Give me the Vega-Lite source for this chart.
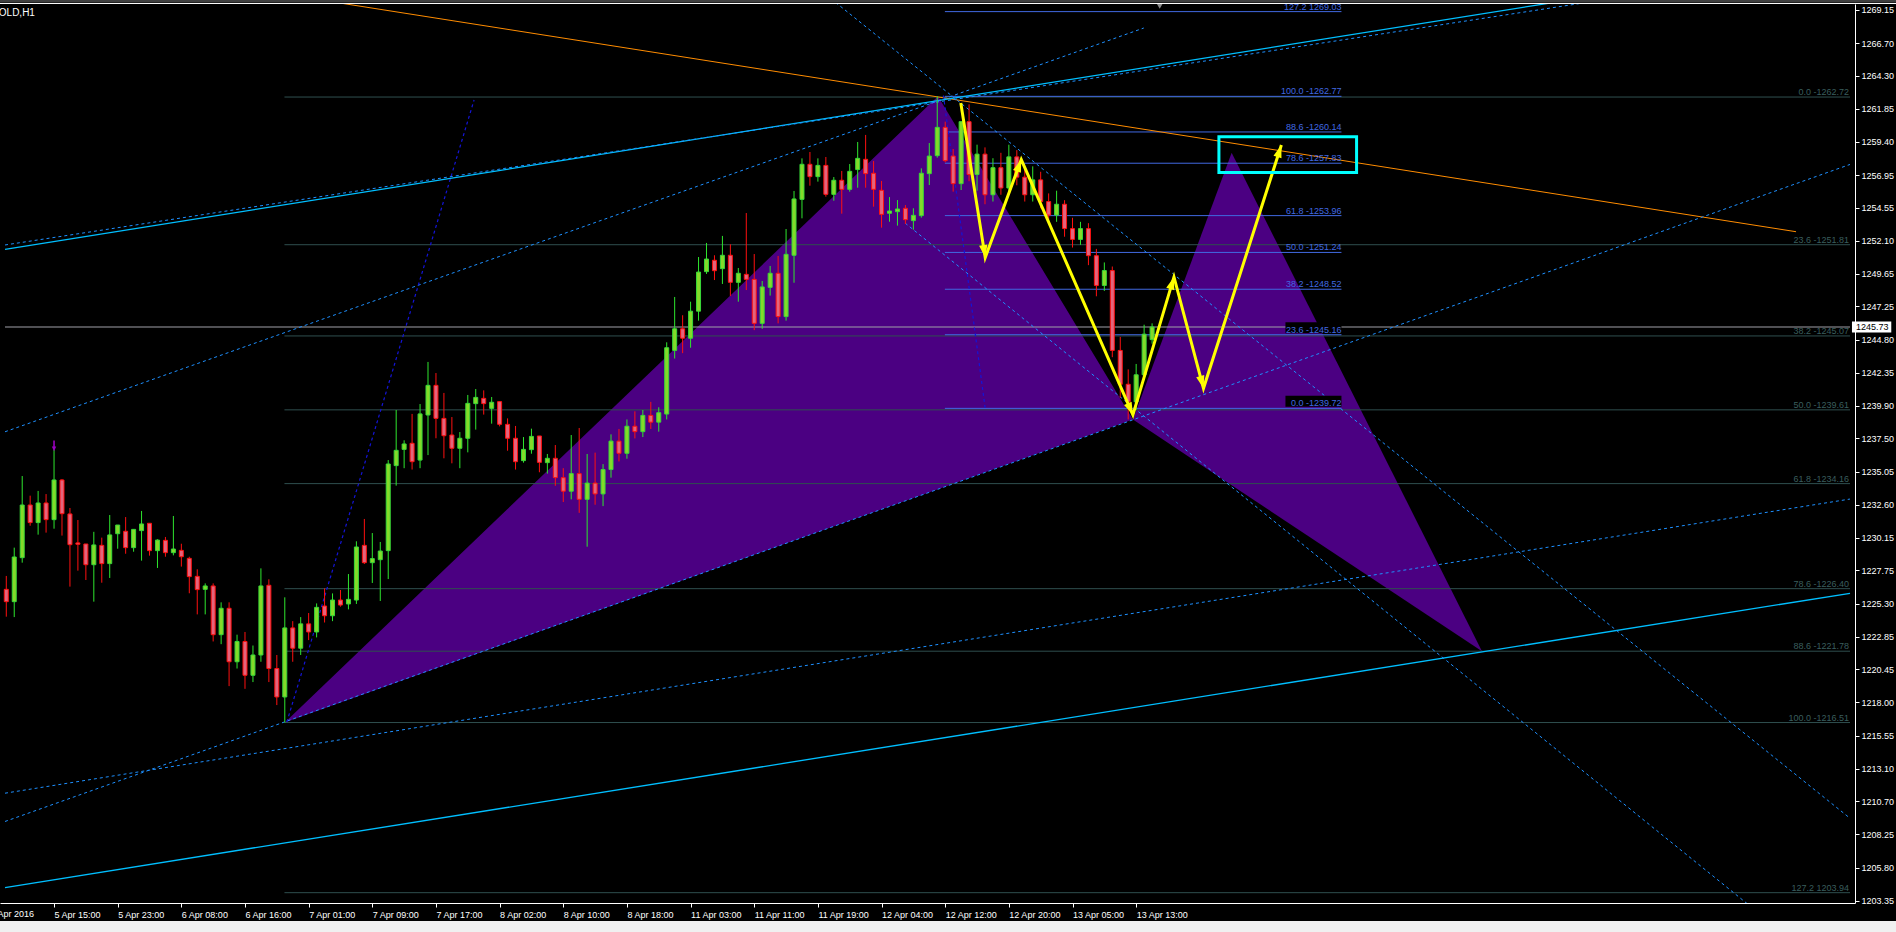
{
"$schema": "https://vega.github.io/schema/vega-lite/v6.json",
"width": 1855, "height": 899,
"autosize": {"type": "none"},
"padding": {"left": 0, "top": 4, "right": 41, "bottom": 29},
"background": "#000000",
"config": {"view": {"stroke": null}, "font": "Liberation Sans",
 "axis": {"labelOverlap": false, "labelBound": false, "labelFlush": false, "grid": false, "labelSeparation": 0, "tickCount": 60}},
"datasets": {
"candles": [
{"i":0,"o":1226.35,"h":1227.34,"l":1224.33,"c":1225.44},
{"i":1,"o":1225.44,"h":1229.43,"l":1224.30,"c":1228.74},
{"i":2,"o":1228.69,"h":1234.72,"l":1228.32,"c":1232.58},
{"i":3,"o":1232.58,"h":1233.27,"l":1231.05,"c":1231.28},
{"i":4,"o":1231.28,"h":1233.62,"l":1230.39,"c":1232.73},
{"i":5,"o":1232.73,"h":1233.39,"l":1230.54,"c":1231.50},
{"i":6,"o":1231.50,"h":1236.69,"l":1230.83,"c":1234.43},
{"i":7,"o":1234.43,"h":1234.50,"l":1230.32,"c":1231.94},
{"i":8,"o":1231.92,"h":1232.36,"l":1226.55,"c":1229.65},
{"i":9,"o":1229.78,"h":1231.47,"l":1227.73,"c":1229.68},
{"i":10,"o":1229.70,"h":1229.70,"l":1227.04,"c":1228.17},
{"i":11,"o":1228.17,"h":1230.60,"l":1225.44,"c":1229.63},
{"i":12,"o":1229.60,"h":1230.17,"l":1226.84,"c":1228.25},
{"i":13,"o":1228.25,"h":1231.84,"l":1227.19,"c":1230.37},
{"i":14,"o":1230.46,"h":1231.10,"l":1229.35,"c":1231.10},
{"i":15,"o":1230.64,"h":1231.69,"l":1228.98,"c":1229.43},
{"i":16,"o":1229.43,"h":1230.80,"l":1229.13,"c":1230.78},
{"i":17,"o":1230.69,"h":1232.14,"l":1228.47,"c":1231.18},
{"i":18,"o":1231.23,"h":1231.23,"l":1228.84,"c":1229.21},
{"i":19,"o":1229.21,"h":1230.05,"l":1227.93,"c":1229.99},
{"i":20,"o":1229.97,"h":1230.22,"l":1228.76,"c":1229.06},
{"i":21,"o":1229.06,"h":1231.77,"l":1228.86,"c":1229.33},
{"i":22,"o":1229.23,"h":1229.72,"l":1228.03,"c":1228.76},
{"i":23,"o":1228.64,"h":1228.76,"l":1226.06,"c":1227.29},
{"i":24,"o":1227.31,"h":1227.83,"l":1224.50,"c":1226.33},
{"i":25,"o":1226.35,"h":1226.79,"l":1224.50,"c":1226.60},
{"i":26,"o":1226.60,"h":1226.79,"l":1222.50,"c":1223.00},
{"i":27,"o":1223.00,"h":1225.39,"l":1222.30,"c":1224.95},
{"i":28,"o":1224.95,"h":1225.39,"l":1219.20,"c":1221.00},
{"i":29,"o":1221.00,"h":1223.00,"l":1220.50,"c":1222.50},
{"i":30,"o":1222.50,"h":1223.20,"l":1219.00,"c":1220.00},
{"i":31,"o":1220.00,"h":1222.20,"l":1219.50,"c":1221.50},
{"i":32,"o":1221.50,"h":1227.90,"l":1221.00,"c":1226.60},
{"i":33,"o":1226.65,"h":1227.09,"l":1219.50,"c":1220.50},
{"i":34,"o":1220.50,"h":1221.50,"l":1217.80,"c":1218.40},
{"i":35,"o":1218.40,"h":1225.76,"l":1216.51,"c":1223.50},
{"i":36,"o":1223.50,"h":1224.00,"l":1221.00,"c":1222.00},
{"i":37,"o":1222.00,"h":1224.30,"l":1221.50,"c":1223.80},
{"i":38,"o":1223.80,"h":1224.60,"l":1222.60,"c":1223.20},
{"i":39,"o":1223.20,"h":1225.31,"l":1222.80,"c":1225.02},
{"i":40,"o":1225.12,"h":1226.42,"l":1223.90,"c":1224.40},
{"i":41,"o":1224.40,"h":1226.05,"l":1224.00,"c":1225.56},
{"i":42,"o":1225.56,"h":1226.30,"l":1225.07,"c":1225.19},
{"i":43,"o":1225.27,"h":1227.48,"l":1224.87,"c":1225.61},
{"i":44,"o":1225.56,"h":1229.90,"l":1225.27,"c":1229.48},
{"i":45,"o":1229.60,"h":1231.55,"l":1228.22,"c":1228.32},
{"i":46,"o":1228.32,"h":1230.51,"l":1226.82,"c":1228.62},
{"i":47,"o":1228.54,"h":1229.85,"l":1225.49,"c":1229.18},
{"i":48,"o":1229.21,"h":1235.90,"l":1227.11,"c":1235.61},
{"i":49,"o":1235.49,"h":1239.60,"l":1234.01,"c":1236.62},
{"i":50,"o":1236.69,"h":1237.36,"l":1235.30,"c":1237.09},
{"i":51,"o":1237.14,"h":1239.31,"l":1235.20,"c":1235.78},
{"i":52,"o":1235.90,"h":1240.04,"l":1235.30,"c":1239.31},
{"i":53,"o":1239.23,"h":1243.15,"l":1236.27,"c":1241.42},
{"i":54,"o":1241.42,"h":1242.33,"l":1237.51,"c":1238.98},
{"i":55,"o":1238.98,"h":1240.86,"l":1236.03,"c":1237.70},
{"i":56,"o":1237.75,"h":1239.08,"l":1235.66,"c":1236.77},
{"i":57,"o":1236.77,"h":1237.97,"l":1235.30,"c":1237.51},
{"i":58,"o":1237.51,"h":1240.71,"l":1236.47,"c":1240.09},
{"i":59,"o":1240.07,"h":1241.15,"l":1238.15,"c":1240.53},
{"i":60,"o":1240.46,"h":1241.05,"l":1239.26,"c":1240.07},
{"i":61,"o":1239.72,"h":1240.56,"l":1238.59,"c":1240.17},
{"i":62,"o":1240.22,"h":1240.26,"l":1238.39,"c":1238.54},
{"i":63,"o":1238.54,"h":1238.98,"l":1236.59,"c":1237.51},
{"i":64,"o":1237.51,"h":1238.42,"l":1235.20,"c":1235.78},
{"i":65,"o":1235.86,"h":1237.60,"l":1235.71,"c":1236.69},
{"i":66,"o":1236.67,"h":1238.22,"l":1236.37,"c":1237.65},
{"i":67,"o":1237.68,"h":1237.68,"l":1235.00,"c":1235.73},
{"i":68,"o":1235.71,"h":1236.35,"l":1234.90,"c":1236.03},
{"i":69,"o":1236.03,"h":1237.01,"l":1234.00,"c":1234.60},
{"i":70,"o":1234.60,"h":1235.30,"l":1232.80,"c":1233.60},
{"i":71,"o":1233.60,"h":1237.75,"l":1233.00,"c":1234.90},
{"i":72,"o":1234.90,"h":1238.27,"l":1232.00,"c":1233.00},
{"i":73,"o":1233.00,"h":1236.35,"l":1229.50,"c":1234.20},
{"i":74,"o":1234.20,"h":1236.45,"l":1232.60,"c":1233.40},
{"i":75,"o":1233.40,"h":1235.60,"l":1232.50,"c":1235.20},
{"i":76,"o":1235.20,"h":1237.80,"l":1234.60,"c":1237.30},
{"i":77,"o":1237.30,"h":1238.20,"l":1235.80,"c":1236.40},
{"i":78,"o":1236.40,"h":1238.90,"l":1236.00,"c":1238.40},
{"i":79,"o":1238.40,"h":1239.50,"l":1237.50,"c":1238.00},
{"i":80,"o":1238.00,"h":1239.60,"l":1237.60,"c":1239.20},
{"i":81,"o":1239.20,"h":1240.20,"l":1238.20,"c":1238.70},
{"i":82,"o":1238.70,"h":1239.80,"l":1238.00,"c":1239.40},
{"i":83,"o":1239.30,"h":1244.60,"l":1238.90,"c":1244.20},
{"i":84,"o":1244.00,"h":1247.95,"l":1243.40,"c":1245.60},
{"i":85,"o":1245.60,"h":1246.60,"l":1243.80,"c":1244.90},
{"i":86,"o":1244.90,"h":1247.60,"l":1244.20,"c":1246.90},
{"i":87,"o":1246.90,"h":1250.90,"l":1246.20,"c":1249.79},
{"i":88,"o":1249.82,"h":1251.94,"l":1249.65,"c":1250.75},
{"i":89,"o":1250.66,"h":1251.03,"l":1249.20,"c":1249.89},
{"i":90,"o":1250.04,"h":1252.46,"l":1248.91,"c":1251.03},
{"i":91,"o":1251.03,"h":1251.84,"l":1248.02,"c":1249.03},
{"i":92,"o":1249.03,"h":1250.09,"l":1247.60,"c":1249.70},
{"i":93,"o":1249.62,"h":1254.15,"l":1248.46,"c":1249.25},
{"i":94,"o":1249.25,"h":1251.12,"l":1245.50,"c":1246.00},
{"i":95,"o":1246.00,"h":1249.13,"l":1245.60,"c":1248.69},
{"i":96,"o":1248.66,"h":1250.24,"l":1248.05,"c":1249.70},
{"i":97,"o":1249.70,"h":1250.98,"l":1246.00,"c":1246.50},
{"i":98,"o":1246.50,"h":1252.97,"l":1246.20,"c":1251.10},
{"i":99,"o":1251.03,"h":1255.78,"l":1249.00,"c":1255.19},
{"i":100,"o":1255.16,"h":1258.19,"l":1253.76,"c":1257.75},
{"i":101,"o":1257.75,"h":1258.66,"l":1256.17,"c":1256.84},
{"i":102,"o":1256.84,"h":1258.19,"l":1256.47,"c":1257.67},
{"i":103,"o":1257.67,"h":1258.29,"l":1255.36,"c":1255.53},
{"i":104,"o":1255.53,"h":1256.81,"l":1255.06,"c":1256.57},
{"i":105,"o":1256.57,"h":1257.26,"l":1254.10,"c":1255.90},
{"i":106,"o":1255.90,"h":1257.77,"l":1255.73,"c":1257.23},
{"i":107,"o":1257.36,"h":1259.40,"l":1256.02,"c":1258.19},
{"i":108,"o":1258.12,"h":1259.92,"l":1256.02,"c":1257.06},
{"i":109,"o":1257.09,"h":1257.99,"l":1254.62,"c":1255.90},
{"i":110,"o":1255.83,"h":1256.52,"l":1253.07,"c":1254.05},
{"i":111,"o":1254.13,"h":1255.33,"l":1253.51,"c":1254.30},
{"i":112,"o":1254.25,"h":1255.11,"l":1253.22,"c":1254.45},
{"i":113,"o":1254.50,"h":1254.74,"l":1253.34,"c":1253.66},
{"i":114,"o":1253.59,"h":1254.50,"l":1252.92,"c":1253.98},
{"i":115,"o":1253.96,"h":1257.45,"l":1253.81,"c":1257.09},
{"i":116,"o":1257.06,"h":1259.32,"l":1256.22,"c":1258.36},
{"i":117,"o":1258.39,"h":1262.77,"l":1258.24,"c":1260.48},
{"i":118,"o":1260.48,"h":1260.90,"l":1257.90,"c":1258.02},
{"i":119,"o":1258.36,"h":1258.88,"l":1255.73,"c":1256.32},
{"i":120,"o":1256.32,"h":1260.90,"l":1255.85,"c":1260.90},
{"i":121,"o":1260.90,"h":1262.18,"l":1256.50,"c":1257.00},
{"i":122,"o":1257.00,"h":1259.20,"l":1255.80,"c":1258.50},
{"i":123,"o":1258.50,"h":1259.00,"l":1254.80,"c":1255.50},
{"i":124,"o":1255.50,"h":1258.20,"l":1255.00,"c":1257.50},
{"i":125,"o":1257.50,"h":1258.60,"l":1255.50,"c":1256.00},
{"i":126,"o":1256.00,"h":1259.20,"l":1255.70,"c":1258.30},
{"i":127,"o":1258.30,"h":1258.80,"l":1256.20,"c":1256.80},
{"i":128,"o":1256.80,"h":1257.50,"l":1255.00,"c":1255.50},
{"i":129,"o":1255.50,"h":1257.60,"l":1255.00,"c":1256.60},
{"i":130,"o":1256.60,"h":1257.20,"l":1254.50,"c":1255.00},
{"i":131,"o":1255.00,"h":1255.60,"l":1253.60,"c":1254.00},
{"i":132,"o":1254.00,"h":1255.80,"l":1253.50,"c":1254.80},
{"i":133,"o":1254.80,"h":1255.10,"l":1252.40,"c":1253.00},
{"i":134,"o":1253.00,"h":1253.80,"l":1251.60,"c":1252.20},
{"i":135,"o":1252.20,"h":1253.50,"l":1251.80,"c":1253.00},
{"i":136,"o":1253.00,"h":1253.40,"l":1250.30,"c":1251.00},
{"i":137,"o":1251.00,"h":1251.50,"l":1248.00,"c":1248.80},
{"i":138,"o":1248.80,"h":1250.50,"l":1248.40,"c":1249.90},
{"i":139,"o":1249.90,"h":1250.20,"l":1243.50,"c":1244.00},
{"i":140,"o":1244.00,"h":1245.00,"l":1240.50,"c":1241.50},
{"i":141,"o":1241.50,"h":1242.60,"l":1238.90,"c":1240.20},
{"i":142,"o":1240.20,"h":1243.00,"l":1239.60,"c":1242.20},
{"i":143,"o":1242.20,"h":1245.90,"l":1241.80,"c":1245.20},
{"i":144,"o":1244.80,"h":1246.00,"l":1244.50,"c":1245.73}
],
"tri": [
{"t":"XAB","i":35,"p":1216.51,"p2":1216.51},
{"t":"XAB","i":117.09,"p":1262.77,"p2":1233.75},
{"t":"XAB","i":141.59,"p":1238.89,"p2":1238.89},
{"t":"BCD","i":141.59,"p":1238.89,"p2":1238.89},
{"t":"BCD","i":154.0,"p":1258.6,"p2":1234.04},
{"t":"BCD","i":185.46,"p":1221.78,"p2":1221.78}
],
"segs": [
{"k":"orange","x1":37.34,"y1":1270.09,"x2":224.93,"y2":1252.77},
{"k":"solid","x1":-0.1625,"y1":1251.47,"x2":199.84,"y2":1270.21},
{"k":"solid","x1":-0.1625,"y1":1204.32,"x2":231.7125,"y2":1226.06},
{"k":"dot","x1":-0.1625,"y1":1251.79,"x2":206.1,"y2":1270.38},
{"k":"dot","x1":-0.1625,"y1":1237.99,"x2":142.96,"y2":1267.82},
{"k":"dot","x1":-0.1625,"y1":1209.20,"x2":231.7125,"y2":1257.74},
{"k":"dot","x1":-0.1625,"y1":1211.29,"x2":231.7125,"y2":1233.02},
{"k":"dot","x1":103.06,"y1":1270.26,"x2":231.7125,"y2":1209.44},
{"k":"dot","x1":112.96,"y1":1253.41,"x2":231.7125,"y2":1196.99},
{"k":"dkdot","x1":35.26,"y1":1216.55,"x2":58.79,"y2":1262.50},
{"k":"dkdot","x1":117.78,"y1":1262.83,"x2":123.03,"y2":1239.70}
],
"fib": [
{"g":1,"t1":34.96,"t2":231.7125,"lv":1262.72,"lab":"0.0 -1262.72"},
{"g":1,"t1":34.96,"t2":231.7125,"lv":1251.81,"lab":"23.6 -1251.81"},
{"g":1,"t1":34.96,"t2":231.7125,"lv":1245.07,"lab":"38.2 -1245.07"},
{"g":1,"t1":34.96,"t2":231.7125,"lv":1239.61,"lab":"50.0 -1239.61"},
{"g":1,"t1":34.96,"t2":231.7125,"lv":1234.16,"lab":"61.8 -1234.16"},
{"g":1,"t1":34.96,"t2":231.7125,"lv":1226.40,"lab":"78.6 -1226.40"},
{"g":1,"t1":34.96,"t2":231.7125,"lv":1221.78,"lab":"88.6 -1221.78"},
{"g":1,"t1":34.96,"t2":231.7125,"lv":1216.51,"lab":"100.0 -1216.51"},
{"g":1,"t1":34.96,"t2":231.7125,"lv":1203.94,"lab":"127.2 1203.94"},
{"g":2,"t1":117.96,"t2":167.8,"lv":1269.03,"lab":"127.2 1269.03"},
{"g":2,"t1":117.96,"t2":167.8,"lv":1262.77,"lab":"100.0 -1262.77"},
{"g":2,"t1":117.96,"t2":167.8,"lv":1260.14,"lab":"88.6 -1260.14"},
{"g":2,"t1":117.96,"t2":167.8,"lv":1257.83,"lab":"78.6 -1257.83"},
{"g":2,"t1":117.96,"t2":167.8,"lv":1253.96,"lab":"61.8 -1253.96"},
{"g":2,"t1":117.96,"t2":167.8,"lv":1251.24,"lab":"50.0 -1251.24"},
{"g":2,"t1":117.96,"t2":167.8,"lv":1248.52,"lab":"38.2 -1248.52"},
{"g":2,"t1":117.96,"t2":167.8,"lv":1245.16,"lab":"23.6 -1245.16"},
{"g":2,"t1":117.96,"t2":167.8,"lv":1239.72,"lab":"0.0 -1239.72"}
],
"yel": [
{"n":0,"i":119.96,"p":1262.28},
{"n":1,"i":123.03,"p":1250.86,"a":171},
{"n":2,"i":127.56,"p":1258.10,"a":20},
{"n":3,"i":141.59,"p":1239.24,"a":156},
{"n":4,"i":146.75,"p":1249.43,"a":17},
{"n":5,"i":150.46,"p":1241.20,"a":165},
{"n":6,"i":160.25,"p":1259.18,"a":18}
],
"box": [{"i1":152.4,"i2":169.7,"p1":1257.14,"p2":1259.78}],
"bid": [{"v":1245.73,"lab":"1245.73","i1":231.96,"i2":236.9}],
"marks": [{"kind":"fractal","i":6,"p":1236.95},{"kind":"shift","i":144.96,"p":1269.45}],
"title": [{"t":"GOLD,H1","i":3.6,"p":1268.95}],
"firstdate": [{"t":"5 Apr 2016","i":-2}]
},
"layer": [
{"data":{"name":"candles"},"mark":{"type":"rule","opacity":0},
 "encoding":{"x":{"field":"i","type":"quantitative","scale":{"domain":[-0.1625,231.7125],"nice":false,"zero":false},
   "axis":{"orient":"bottom","values":[6,14,22,30,38,46,54,62,70,78,86,94,102,110,118,126,134,142],"tickCount":60,
   "labelExpr":"['5 Apr 2016','5 Apr 15:00','5 Apr 23:00','6 Apr 08:00','6 Apr 16:00','7 Apr 01:00','7 Apr 09:00','7 Apr 17:00','8 Apr 02:00','8 Apr 10:00','8 Apr 18:00','11 Apr 03:00','11 Apr 11:00','11 Apr 19:00','12 Apr 04:00','12 Apr 12:00','12 Apr 20:00','13 Apr 05:00','13 Apr 13:00'][(datum.value+2)/8]",
   "labelAlign":"left","labelBaseline":"top","labelPadding":3,"labelOffset":0,"tickSize":4,"tickColor":"#FFFFFF","domainColor":"#FFFFFF","labelColor":"#FFFFFF","labelFontSize":9,"labelFont":"Liberation Sans","grid":false,"title":null,"labelOverlap":false,"labelFlush":false,"labelBound":false,"zindex":1}},
 "y":{"field":"l","type":"quantitative","scale":{"domain":[1203.178,1269.593],"nice":false,"zero":false},
   "axis":{"orient":"right","values":[1269.15,1266.70,1264.30,1261.85,1259.40,1256.95,1254.55,1252.10,1249.65,1247.25,1244.80,1242.35,1239.90,1237.50,1235.05,1232.60,1230.15,1227.75,1225.30,1222.85,1220.45,1218.00,1215.55,1213.10,1210.70,1208.25,1205.80,1203.35],"tickCount":60,
   "format":".2f","tickSize":4,"labelPadding":2,"tickColor":"#FFFFFF","domainColor":"#FFFFFF","labelColor":"#FFFFFF","labelFontSize":9,"labelFont":"Liberation Sans","grid":false,"title":null,"labelOverlap":false,"labelFlush":false,"labelBound":false,"labelBaseline":"middle","zindex":1}},
 "y2":{"field":"h"}}},
{"data":{"name":"tri"},"mark":{"type":"area","color":"#4B0082","opacity":1,"interpolate":"linear"},
 "encoding":{"x":{"field":"i","type":"quantitative","scale":{"domain":[-0.1625,231.7125],"nice":false,"zero":false}},
 "y":{"field":"p","type":"quantitative","scale":{"domain":[1203.178,1269.593],"nice":false,"zero":false}},
 "y2":{"field":"p2"},"detail":{"field":"t"}}},
{"data":{"name":"fib"},"transform":[{"filter":"datum.g == 1"}],"mark":{"type":"rule","color":"#2F4F4F","strokeWidth":1},
 "encoding":{"x":{"field":"t1","type":"quantitative","scale":{"domain":[-0.1625,231.7125],"nice":false,"zero":false}},
 "x2":{"field":"t2"},
 "y":{"field":"lv","type":"quantitative","scale":{"domain":[1203.178,1269.593],"nice":false,"zero":false}}}},
{"data":{"name":"fib"},"transform":[{"filter":"datum.g == 2"}],"mark":{"type":"rule","color":"#4169E1","strokeWidth":1},
 "encoding":{"x":{"field":"t1","type":"quantitative","scale":{"domain":[-0.1625,231.7125],"nice":false,"zero":false}},
 "x2":{"field":"t2"},
 "y":{"field":"lv","type":"quantitative","scale":{"domain":[1203.178,1269.593],"nice":false,"zero":false}}}},
{"data":{"name":"bid"},"mark":{"type":"rule","color":"#A0A0A8","strokeWidth":1},
 "encoding":{"x":{"datum":-0.1625,"type":"quantitative","scale":{"domain":[-0.1625,231.7125],"nice":false,"zero":false}},
 "x2":{"datum":231.7125},
 "y":{"field":"v","type":"quantitative","scale":{"domain":[1203.178,1269.593],"nice":false,"zero":false}}}},
{"data":{"name":"segs"},"transform":[{"filter":"datum.k == 'orange'"}],"mark":{"type":"rule","color":"#FF8C00","strokeWidth":1,"clip":true},
 "encoding":{"x":{"field":"x1","type":"quantitative","scale":{"domain":[-0.1625,231.7125],"nice":false,"zero":false}},
 "x2":{"field":"x2"},
 "y":{"field":"y1","type":"quantitative","scale":{"domain":[1203.178,1269.593],"nice":false,"zero":false}},
 "y2":{"field":"y2"}}},
{"data":{"name":"segs"},"transform":[{"filter":"datum.k == 'solid'"}],"mark":{"type":"rule","color":"#00BFFF","strokeWidth":1.3,"clip":true},
 "encoding":{"x":{"field":"x1","type":"quantitative","scale":{"domain":[-0.1625,231.7125],"nice":false,"zero":false}},
 "x2":{"field":"x2"},
 "y":{"field":"y1","type":"quantitative","scale":{"domain":[1203.178,1269.593],"nice":false,"zero":false}},
 "y2":{"field":"y2"}}},
{"data":{"name":"segs"},"transform":[{"filter":"datum.k == 'dot'"}],"mark":{"type":"rule","color":"#1E90FF","strokeWidth":1,"strokeDash":[3,3],"clip":true},
 "encoding":{"x":{"field":"x1","type":"quantitative","scale":{"domain":[-0.1625,231.7125],"nice":false,"zero":false}},
 "x2":{"field":"x2"},
 "y":{"field":"y1","type":"quantitative","scale":{"domain":[1203.178,1269.593],"nice":false,"zero":false}},
 "y2":{"field":"y2"}}},
{"data":{"name":"segs"},"transform":[{"filter":"datum.k == 'dkdot'"}],"mark":{"type":"rule","color":"#1414D8","strokeWidth":1.2,"strokeDash":[3,3],"clip":true},
 "encoding":{"x":{"field":"x1","type":"quantitative","scale":{"domain":[-0.1625,231.7125],"nice":false,"zero":false}},
 "x2":{"field":"x2"},
 "y":{"field":"y1","type":"quantitative","scale":{"domain":[1203.178,1269.593],"nice":false,"zero":false}},
 "y2":{"field":"y2"}}},
{"data":{"name":"candles"},"mark":{"type":"rule","strokeWidth":1},
 "encoding":{"x":{"field":"i","type":"quantitative","scale":{"domain":[-0.1625,231.7125],"nice":false,"zero":false}},
 "y":{"field":"l","type":"quantitative","scale":{"domain":[1203.178,1269.593],"nice":false,"zero":false}},
 "y2":{"field":"h"},
 "color":{"condition":{"test":"datum.c >= datum.o","value":"#2EE62E"},"value":"#FF1010"}}},
{"data":{"name":"candles"},"mark":{"type":"bar","width":4,"strokeWidth":1},
 "encoding":{"x":{"field":"i","type":"quantitative","scale":{"domain":[-0.1625,231.7125],"nice":false,"zero":false}},
 "y":{"field":"o","type":"quantitative","scale":{"domain":[1203.178,1269.593],"nice":false,"zero":false}},
 "y2":{"field":"c"},
 "fill":{"condition":{"test":"datum.c >= datum.o","value":"#84DA2A"},"value":"#E4647C"},
 "stroke":{"condition":{"test":"datum.c >= datum.o","value":"#38D838"},"value":"#FF1010"}}},
{"data":{"name":"yel"},"mark":{"type":"line","color":"#FFFF00","strokeWidth":3},
 "encoding":{"x":{"field":"i","type":"quantitative","scale":{"domain":[-0.1625,231.7125],"nice":false,"zero":false}},
 "y":{"field":"p","type":"quantitative","scale":{"domain":[1203.178,1269.593],"nice":false,"zero":false}},
 "order":{"field":"n"}}},
{"data":{"name":"yel"},"transform":[{"filter":"datum.n > 0"}],"mark":{"type":"point","shape":"M0,0L-1.4,4.2L1.4,4.2Z","filled":true,"color":"#FFFF00","size":36,"opacity":1},
 "encoding":{"x":{"field":"i","type":"quantitative","scale":{"domain":[-0.1625,231.7125],"nice":false,"zero":false}},
 "y":{"field":"p","type":"quantitative","scale":{"domain":[1203.178,1269.593],"nice":false,"zero":false}},
 "angle":{"field":"a","type":"quantitative","scale":null}}},
{"data":{"name":"box"},"mark":{"type":"rect","fill":"#000000","fillOpacity":0,"stroke":"#00FFFF","strokeWidth":3},
 "encoding":{"x":{"field":"i1","type":"quantitative","scale":{"domain":[-0.1625,231.7125],"nice":false,"zero":false}},
 "x2":{"field":"i2"},
 "y":{"field":"p1","type":"quantitative","scale":{"domain":[1203.178,1269.593],"nice":false,"zero":false}},
 "y2":{"field":"p2"}}},
{"data":{"name":"fib"},"transform":[{"filter":"datum.g == 2 && (datum.lv == 1245.16 || datum.lv == 1239.72)"}],
 "mark":{"type":"rect","width":56,"height":11,"xOffset":-28,"yOffset":-7,"color":"#000000"},
 "encoding":{"x":{"field":"t2","type":"quantitative","scale":{"domain":[-0.1625,231.7125],"nice":false,"zero":false}},
 "y":{"field":"lv","type":"quantitative","scale":{"domain":[1203.178,1269.593],"nice":false,"zero":false}}}},
{"data":{"name":"fib"},"transform":[{"filter":"datum.g == 1"}],"mark":{"type":"text","align":"right","baseline":"alphabetic","dy":-2,"dx":-1,"fontSize":9,"font":"Liberation Sans","color":"#3A5E5E"},
 "encoding":{"x":{"field":"t2","type":"quantitative","scale":{"domain":[-0.1625,231.7125],"nice":false,"zero":false}},
 "y":{"field":"lv","type":"quantitative","scale":{"domain":[1203.178,1269.593],"nice":false,"zero":false}},
 "text":{"field":"lab"}}},
{"data":{"name":"fib"},"transform":[{"filter":"datum.g == 2"}],"mark":{"type":"text","align":"right","baseline":"alphabetic","dy":-2,"dx":0,"fontSize":9,"font":"Liberation Sans","color":"#4169E1"},
 "encoding":{"x":{"field":"t2","type":"quantitative","scale":{"domain":[-0.1625,231.7125],"nice":false,"zero":false}},
 "y":{"field":"lv","type":"quantitative","scale":{"domain":[1203.178,1269.593],"nice":false,"zero":false}},
 "text":{"field":"lab"}}},
{"data":{"name":"marks"},"transform":[{"filter":"datum.kind == 'fractal'"}],"mark":{"type":"point","shape":"arrow","filled":true,"color":"#9A00C0","size":120,"angle":180,"opacity":1},
 "encoding":{"x":{"field":"i","type":"quantitative","scale":{"domain":[-0.1625,231.7125],"nice":false,"zero":false}},
 "y":{"field":"p","type":"quantitative","scale":{"domain":[1203.178,1269.593],"nice":false,"zero":false}}}},
{"data":{"name":"marks"},"transform":[{"filter":"datum.kind == 'shift'"}],"mark":{"type":"point","shape":"triangle-down","filled":true,"color":"#8C8C8C","size":40,"opacity":1,"clip":false},
 "encoding":{"x":{"field":"i","type":"quantitative","scale":{"domain":[-0.1625,231.7125],"nice":false,"zero":false}},
 "y":{"field":"p","type":"quantitative","scale":{"domain":[1203.178,1269.593],"nice":false,"zero":false}}}},
{"data":{"name":"title"},"mark":{"type":"text","align":"right","baseline":"middle","fontSize":10,"font":"Liberation Sans","color":"#FFFFFF"},
 "encoding":{"x":{"field":"i","type":"quantitative","scale":{"domain":[-0.1625,231.7125],"nice":false,"zero":false}},
 "y":{"field":"p","type":"quantitative","scale":{"domain":[1203.178,1269.593],"nice":false,"zero":false}},
 "text":{"field":"t"}}},
{"data":{"name":"firstdate"},"mark":{"type":"text","align":"left","baseline":"top","fontSize":9,"font":"Liberation Sans","color":"#FFFFFF","clip":false},
 "encoding":{"x":{"field":"i","type":"quantitative","scale":{"domain":[-0.1625,231.7125],"nice":false,"zero":false}},
 "y":{"datum":1202.66,"type":"quantitative","scale":{"domain":[1203.178,1269.593],"nice":false,"zero":false}},
 "text":{"field":"t"}}},
{"data":{"name":"bid"},"mark":{"type":"rect","color":"#FFFFFF","height":11,"clip":false},
 "encoding":{"x":{"field":"i1","type":"quantitative","scale":{"domain":[-0.1625,231.7125],"nice":false,"zero":false}},
 "x2":{"field":"i2"},
 "y":{"field":"v","type":"quantitative","scale":{"domain":[1203.178,1269.593],"nice":false,"zero":false}}}},
{"data":{"name":"bid"},"mark":{"type":"text","align":"left","baseline":"middle","fontSize":9,"font":"Liberation Sans","color":"#000000","dx":4},
 "encoding":{"x":{"field":"i1","type":"quantitative","scale":{"domain":[-0.1625,231.7125],"nice":false,"zero":false}},
 "y":{"field":"v","type":"quantitative","scale":{"domain":[1203.178,1269.593],"nice":false,"zero":false}},
 "text":{"field":"lab"}}},
{"data":{"name":"title"},"mark":{"type":"rect","color":"#F0F0F0","clip":false},
 "encoding":{"x":{"datum":-1,"type":"quantitative","scale":{"domain":[-0.1625,231.7125],"nice":false,"zero":false}},
 "x2":{"datum":240},
 "y":{"datum":1201.85,"type":"quantitative","scale":{"domain":[1203.178,1269.593],"nice":false,"zero":false}},
 "y2":{"datum":1200.3}}},
{"data":{"name":"title"},"mark":{"type":"rect","color":"#404040","clip":false},
 "encoding":{"x":{"datum":-1,"type":"quantitative","scale":{"domain":[-0.1625,231.7125],"nice":false,"zero":false}},
 "x2":{"datum":240},
 "y":{"datum":1269.70,"type":"quantitative","scale":{"domain":[1203.178,1269.593],"nice":false,"zero":false}},
 "y2":{"datum":1269.95}}},
{"data":{"name":"title"},"mark":{"type":"rule","color":"#FFFFFF","strokeWidth":1,"clip":false},
 "encoding":{"x":{"datum":-1,"type":"quantitative","scale":{"domain":[-0.1625,231.7125],"nice":false,"zero":false}},
 "x2":{"datum":240},
 "y":{"datum":1269.63,"type":"quantitative","scale":{"domain":[1203.178,1269.593],"nice":false,"zero":false}}}}
]
}
